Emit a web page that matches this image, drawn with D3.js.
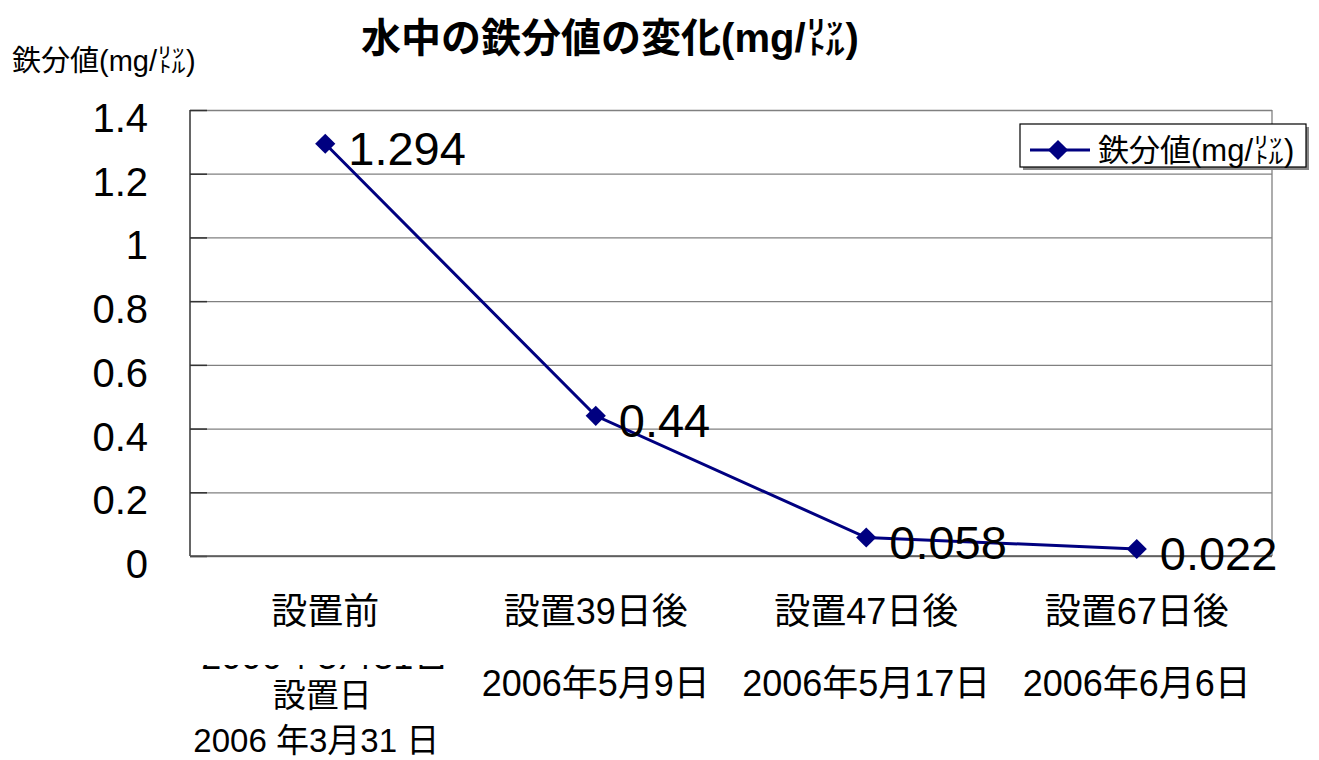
<!DOCTYPE html>
<html><head><meta charset="utf-8">
<script src="https://cdn.jsdelivr.net/npm/d3@7"></script>
<style>
html,body{margin:0;padding:0;background:#fff;}
svg{display:block;}
text{font-family:"Liberation Sans","Noto Sans CJK JP",sans-serif;}
</style></head>
<body>
<svg id="c" width="1319" height="760"></svg>
<script>
const categories = ["設置前", "設置39日後", "設置47日後", "設置67日後"];
const dates = ["2006年3月31日", "2006年5月9日", "2006年5月17日", "2006年6月6日"];
const firstOverlay = ["設置日", "2006 年3月31 日"];
const values = [1.294, 0.44, 0.058, 0.022];
const valueLabels = ["1.294", "0.44", "0.058", "0.022"];
const yTicks = [0, 0.2, 0.4, 0.6, 0.8, 1, 1.2, 1.4];
const titleText = "水中の鉄分値の変化(mg/㍑)";
const yTitle = "鉄分値(mg/㍑)";
const seriesName = "鉄分値(mg/㍑)";

const svg = d3.select("#c");
const L = 190, R = 1272, T = 110, B = 556;
const x = d3.scalePoint().domain(categories).range([L, R]).padding(0.5);
const y = d3.scaleLinear().domain([0, 1.4]).range([B, T]);
const navy = "#000080";

// grid
const grid = svg.append("g").attr("transform", `translate(${L},0)`)
  .call(d3.axisLeft(y).tickValues(yTicks).tickSize(-(R - L)).tickFormat(""));
grid.select(".domain").remove();
grid.selectAll("line").attr("stroke", "#808080").attr("stroke-width", 1.3);

// plot border right
svg.append("line").attr("x1", R).attr("x2", R).attr("y1", T).attr("y2", B).attr("stroke", "#808080").attr("stroke-width", 1.3);

// inner tick marks
const ticks = svg.append("g").attr("transform", `translate(${L},0)`)
  .call(d3.axisRight(y).tickValues(yTicks).tickSize(17).tickFormat(""));
ticks.select(".domain").remove();
ticks.selectAll("line").attr("stroke", "#333").attr("stroke-width", 1.5);

// axes lines
svg.append("line").attr("x1", L).attr("x2", L).attr("y1", T).attr("y2", B).attr("stroke", "#333").attr("stroke-width", 1.5);
svg.append("line").attr("x1", L).attr("x2", R).attr("y1", B).attr("y2", B).attr("stroke", "#555").attr("stroke-width", 1.5);

// y labels
svg.append("g").selectAll("text").data(yTicks).join("text")
  .attr("x", 148).attr("y", d => y(d) + 22)
  .attr("text-anchor", "end").attr("font-size", 40).attr("fill", "#000")
  .text(d => d3.format("")(d));

// x labels
svg.append("g").selectAll("text").data(categories).join("text")
  .attr("x", d => x(d)).attr("y", 624)
  .attr("text-anchor", "middle").attr("font-size", 36).attr("fill", "#000")
  .text(d => d);
svg.append("defs").append("clipPath").attr("id", "clip1")
  .append("rect").attr("x", 150).attr("y", 665).attr("width", 320).attr("height", 4);
svg.append("g").selectAll("text").data(dates).join("text")
  .attr("x", (d, i) => x(categories[i])).attr("y", (d, i) => i === 0 ? 669 : 696)
  .attr("text-anchor", "middle").attr("font-size", 36).attr("fill", "#000")
  .attr("clip-path", (d, i) => i === 0 ? "url(#clip1)" : null)
  .text(d => d);
svg.append("g").selectAll("text").data(firstOverlay).join("text")
  .attr("x", (d, i) => x(categories[0]) + (i === 0 ? -3 : -9)).attr("y", (d, i) => i === 0 ? 707 : 752)
  .attr("text-anchor", "middle").attr("font-size", 33).attr("fill", "#000")
  .text(d => d);

// line
const line = d3.line().x((d, i) => x(categories[i])).y(d => y(d));
svg.append("path").datum(values).attr("d", line).attr("fill", "none")
  .attr("stroke", navy).attr("stroke-width", 3);

// markers
const diamond = d3.symbol().type(d3.symbolDiamond2).size(260);
svg.append("g").selectAll("path").data(values).join("path")
  .attr("d", diamond)
  .attr("transform", (d, i) => `translate(${x(categories[i])},${y(d)})`)
  .attr("fill", navy);

// data labels
svg.append("g").selectAll("text").data(values).join("text")
  .attr("x", (d, i) => x(categories[i]) + 23).attr("y", d => y(d) + 21)
  .attr("font-size", 47).attr("fill", "#000")
  .text((d, i) => valueLabels[i]);

// title
svg.append("text").attr("x", 610).attr("y", 52).attr("text-anchor", "middle")
  .attr("font-size", 40).attr("font-weight", "bold").attr("fill", "#000").text(titleText);

// y title
svg.append("text").attr("x", 12).attr("y", 71).attr("font-size", 29).attr("fill", "#000").text(yTitle);

// legend
const lg = svg.append("g");
lg.append("rect").attr("x", 1023).attr("y", 127).attr("width", 286).attr("height", 43).attr("fill", "#888");
lg.append("rect").attr("x", 1020).attr("y", 124).attr("width", 286).attr("height", 43).attr("fill", "#fff").attr("stroke", "#000").attr("stroke-width", 1.2);
lg.append("line").attr("x1", 1030).attr("x2", 1090).attr("y1", 150).attr("y2", 150).attr("stroke", navy).attr("stroke-width", 3);
lg.append("path").attr("d", diamond).attr("transform", "translate(1058,150)").attr("fill", navy);
lg.append("text").attr("x", 1098).attr("y", 161).attr("font-size", 31).attr("fill", "#000").text(seriesName);
</script>
</body></html>
